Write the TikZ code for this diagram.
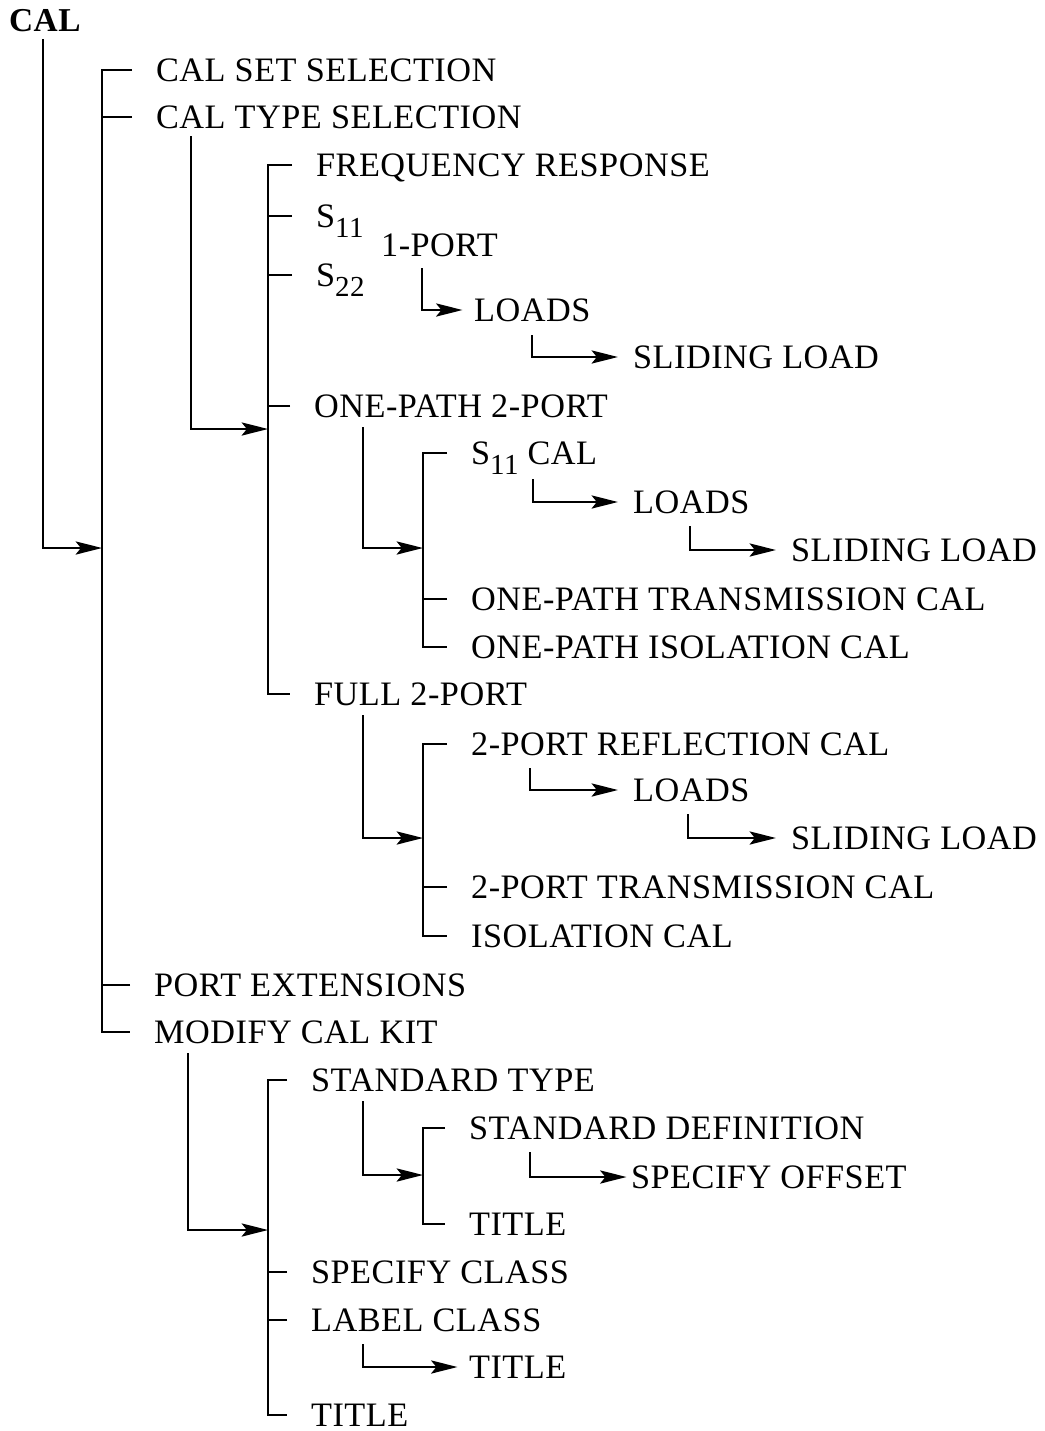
\documentclass[tikz,border=0pt]{standalone}
\usepackage{fontspec}
\setmainfont[LetterSpace=1.5]{Liberation Serif}
\usetikzlibrary{arrows.meta, calc}

\begin{document}
\begin{tikzpicture}[x=0.02cm, y=-0.02cm, line width=1.3pt,
      >={Stealth[length=15pt, width=7.5pt, inset=3pt]},
      item/.style={anchor=west, inner sep=0pt, text height=12.9pt, text depth=0pt,
                   font=\fontsize{19.5}{23}\selectfont},
      head/.style={item, font=\fontsize{19}{23}\selectfont\bfseries}]
    \useasboundingbox (0,0) rectangle (1045,1431);
    \newcommand{\subs}[1]{\raisebox{-0.3em}{\fontsize{16.5}{16}\selectfont #1}}
    % menu entries
    \node[head] (cal) at (8,20) {CAL};
    \node[item] (cset) at (155,70) {CAL SET SELECTION};
    \node[item] (ctype) at (155,117) {CAL TYPE SELECTION};
    \node[item] (freq) at (315,165) {FREQUENCY RESPONSE};
    \node[item] (s11) at (315,216) {S\subs{11}};
    \node[item] (oneport) at (380,245) {1-PORT};
    \node[item] (s22) at (315,275) {S\subs{22}};
    \node[item] (ld1) at (473,310) {LOADS};
    \node[item] (sl1) at (632,357) {SLIDING LOAD};
    \node[item] (op2) at (313,406) {ONE-PATH 2-PORT};
    \node[item] (s11cal) at (470,453) {S\subs{11} CAL};
    \node[item] (ld2) at (632,502) {LOADS};
    \node[item] (sl2) at (790,550) {SLIDING LOAD};
    \node[item] (optr) at (470,599) {ONE-PATH TRANSMISSION CAL};
    \node[item] (opis) at (470,647) {ONE-PATH ISOLATION CAL};
    \node[item] (full) at (313,694) {FULL 2-PORT};
    \node[item] (refl) at (470,744) {2-PORT REFLECTION CAL};
    \node[item] (ld3) at (632,790) {LOADS};
    \node[item] (sl3) at (790,838) {SLIDING LOAD};
    \node[item] (tr2) at (470,887) {2-PORT TRANSMISSION CAL};
    \node[item] (iso) at (470,936) {ISOLATION CAL};
    \node[item] (portext) at (153,985) {PORT EXTENSIONS};
    \node[item] (modkit) at (153,1032) {MODIFY CAL KIT};
    \node[item] (stdtype) at (310,1080) {STANDARD TYPE};
    \node[item] (stddef) at (468,1128) {STANDARD DEFINITION};
    \node[item] (offset) at (630,1177) {SPECIFY OFFSET};
    \node[item] (title1) at (468,1224) {TITLE};
    \node[item] (spcls) at (310,1272) {SPECIFY CLASS};
    \node[item] (lblcls) at (310,1320) {LABEL CLASS};
    \node[item] (title2) at (468,1367) {TITLE};
    \node[item] (title3) at (310,1415) {TITLE};

    % brackets
    \coordinate (b1) at (102,548);
    \coordinate (b2) at (268,429);
    \coordinate (b3) at (423,548);
    \coordinate (b4) at (423,838);
    \coordinate (b5) at (268,1230);
    \coordinate (b6) at (423,1175);
    \draw ([xshift=-13pt]cset.west) -| (b1) |- ([xshift=-13pt]modkit.west);
    \draw ([xshift=-13pt]ctype.west) -- (b1 |- ctype.west);
    \draw ([xshift=-13pt]portext.west) -- (b1 |- portext.west);
    \draw ([xshift=-13pt]freq.west) -| (b2) |- ([xshift=-13pt]full.west);
    \draw ([xshift=-13pt]s11.west) -- (b2 |- s11.west);
    \draw ([xshift=-13pt]s22.west) -- (b2 |- s22.west);
    \draw ([xshift=-13pt]op2.west) -- (b2 |- op2.west);
    \draw ([xshift=-13pt]s11cal.west) -| (b3) |- ([xshift=-13pt]opis.west);
    \draw ([xshift=-13pt]optr.west) -- (b3 |- optr.west);
    \draw ([xshift=-13pt]refl.west) -| (b4) |- ([xshift=-13pt]iso.west);
    \draw ([xshift=-13pt]tr2.west) -- (b4 |- tr2.west);
    \draw ([xshift=-13pt]stdtype.west) -| (b5) |- ([xshift=-13pt]title3.west);
    \draw ([xshift=-13pt]spcls.west) -- (b5 |- spcls.west);
    \draw ([xshift=-13pt]lblcls.west) -- (b5 |- lblcls.west);
    \draw ([xshift=-13pt]stddef.west) -| (b6) |- ([xshift=-13pt]title1.west);

    % arrows into brackets
    \draw[->] (cal.south) ++(-2,7) |- (b1);
    \draw[->] (ctype.south west) ++(36,7) |- (b2);
    \draw[->] (op2.south west) ++(50,9) |- (b3);
    \draw[->] (full.south west) ++(50,9) |- (b4);
    \draw[->] (modkit.south west) ++(35,9) |- (b5);
    \draw[->] (stdtype.south west) ++(53,9) |- (b6);

    % arrows to single entries
    \draw[->, shorten >=6pt] (oneport.south west) ++(42,11) |- (ld1.west);
    \draw[->, shorten >=8pt] (ld1.south west) ++(59,13) |- (sl1.west);
    \draw[->, shorten >=8pt] (s11cal.south west) ++(63,14) |- (ld2.west);
    \draw[->, shorten >=8pt] (ld2.south west) ++(58,12) |- (sl2.west);
    \draw[->, shorten >=8pt] (refl.south west) ++(60,12) |- (ld3.west);
    \draw[->, shorten >=8pt] (ld3.south west) ++(56,12) |- (sl3.west);
    \draw[->, shorten >=2pt] (stddef.south west) ++(62,12) |- (offset.west);
    \draw[->, shorten >=6pt] (lblcls.south west) ++(53,12) |- (title2.west);
  \end{tikzpicture}
\end{document}
